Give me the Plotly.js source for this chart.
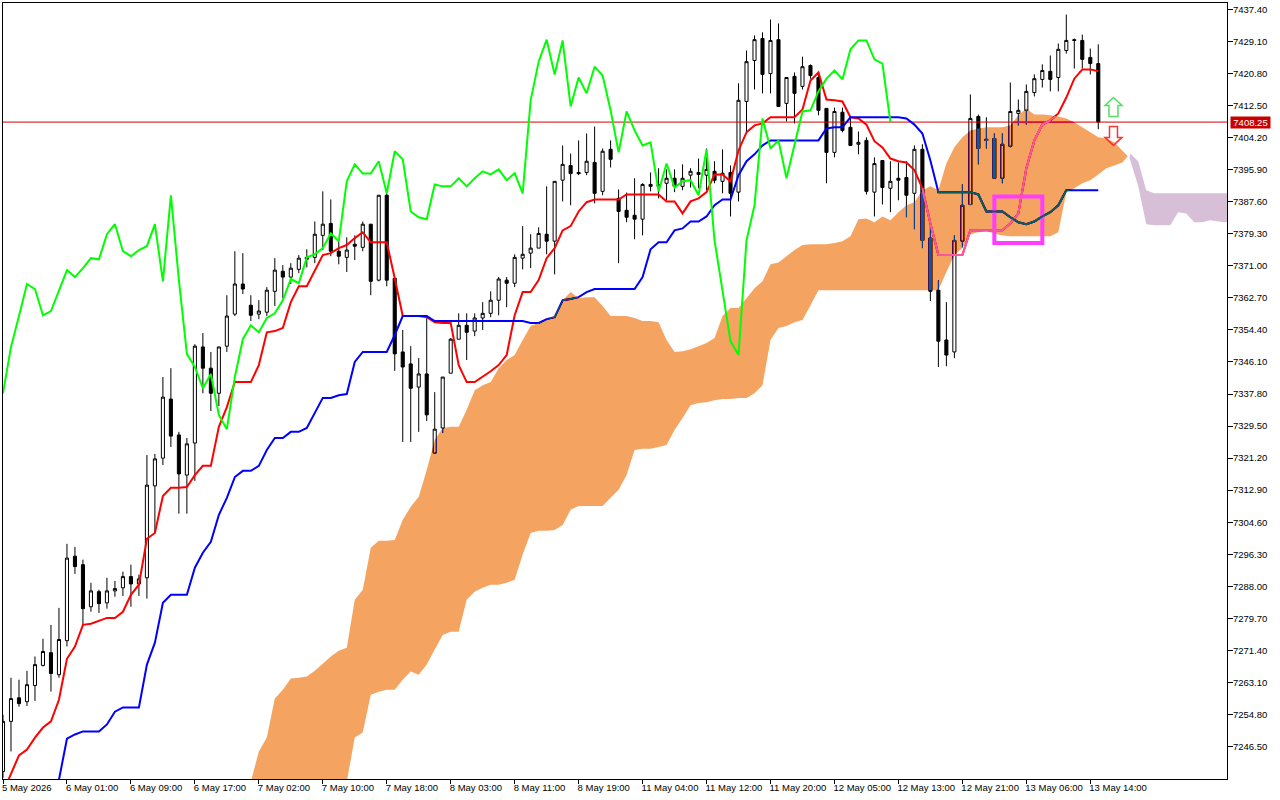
<!DOCTYPE html>
<html>
<head>
<meta charset="utf-8">
<script src="https://cdn.plot.ly/plotly-3.0.1.min.js"></script>
<style>
body { margin: 0; background: #fff; }
/* aliased lines like the terminal draws them */
.plot path { shape-rendering: crispEdges; }
/* the terminal XORs the cloud onto the chart; difference gives the same colours */
.js-fill { mix-blend-mode: difference; }
</style>
</head>
<body>
<div id="chartContainer"></div>
<script>
var opens = [
7240.0,7253.0,7259.1,7258.1,7262.3,7267.5,7270.8,7265.1,7273.9,7295.8,
7293.6,7282.7,7286.6,7283.7,7286.8,7287.6,7290.5,7288.6,7290.2,7314.0,
7321.2,7336.5,7327.2,7316.8,7325.1,7350.0,7344.5,7338.0,7350.2,7358.5,
7366.3,7360.8,7358.5,7359.0,7364.4,7369.6,7368.1,7370.1,7373.2,7373.2,
7378.9,7382.0,7374.8,7373.2,7376.6,7375.8,7381.8,7367.3,7389.3,7367.8,
7348.7,7345.6,7339.6,7343.0,7322.5,7329.0,7343.2,7352.0,7355.6,7354.1,
7357.5,7358.7,7362.1,7367.3,7366.5,7373.0,7374.3,7375.6,7379.2,7377.4,
7393.2,7397.0,7395.2,7395.2,7397.8,7390.3,7401.2,7388.5,7385.4,7384.1,
7383.1,7392.1,7392.1,7392.4,7393.7,7391.6,7394.5,7395.2,7394.5,7395.5,
7392.9,7395.2,7390.1,7413.6,7424.2,7429.9,7420.8,7429.6,7413.1,7420.1,
7417.5,7422.9,7419.8,7411.8,7400.4,7410.8,7406.9,7402.5,7403.5,7390.1,
7398.3,7391.1,7393.7,7393.9,7389.8,7401.2,7378.2,7364.7,7351.8,7348.7,
7377.4,7386.9,7409.7,7403.8,7404.0,7393.7,7402.0,7410.5,7411.3,7415.9,
7419.3,7421.4,7419.8,7426.8,7429.6,7429.4,7425.0,7423.4];
var highs = [
7254.7,7264.3,7263.8,7266.1,7269.8,7274.4,7278.0,7282.4,7299.0,7298.2,
7294.9,7288.9,7287.1,7290.2,7289.4,7291.8,7293.6,7291.0,7322.0,7322.3,
7342.2,7344.5,7328.0,7326.4,7350.7,7353.6,7348.7,7350.0,7363.4,7374.8,
7374.3,7363.4,7362.1,7365.5,7373.0,7371.2,7371.7,7373.8,7375.3,7382.5,
7390.3,7388.2,7377.4,7378.4,7378.9,7382.5,7381.8,7389.3,7389.8,7367.8,
7354.4,7350.2,7347.1,7357.5,7338.3,7342.2,7352.3,7358.7,7358.7,7358.7,
7361.6,7364.4,7368.1,7368.1,7374.0,7381.3,7379.2,7381.0,7391.6,7392.9,
7402.2,7400.1,7403.5,7405.3,7407.1,7401.4,7403.5,7390.8,7390.0,7393.7,
7392.4,7395.2,7396.3,7396.0,7396.0,7397.3,7396.3,7398.8,7401.4,7398.1,
7401.2,7397.0,7418.3,7426.8,7430.7,7431.5,7434.8,7433.8,7419.8,7421.1,
7425.2,7423.2,7420.8,7411.8,7412.0,7412.0,7409.5,7405.8,7404.3,7399.1,
7398.3,7398.1,7397.8,7398.1,7402.2,7402.5,7381.5,7367.3,7361.6,7378.9,
7392.1,7415.4,7410.2,7409.5,7405.3,7405.3,7418.5,7414.1,7418.0,7420.6,
7423.2,7425.5,7428.6,7436.1,7429.9,7430.9,7427.3,7428.4];
var lows = [
7238.4,7245.2,7256.8,7257.0,7258.3,7267.2,7260.7,7264.3,7272.4,7291.2,
7278.0,7281.4,7281.1,7282.2,7285.3,7285.5,7282.7,7285.5,7284.8,7301.8,
7319.4,7324.1,7306.8,7306.8,7315.3,7338.0,7333.4,7334.7,7348.7,7358.0,
7363.7,7356.7,7357.2,7358.0,7360.6,7362.6,7366.3,7369.1,7370.6,7371.7,
7375.1,7373.5,7371.4,7369.4,7372.5,7374.8,7363.4,7367.0,7365.7,7343.8,
7325.4,7325.4,7328.0,7330.8,7322.5,7327.7,7343.2,7352.0,7346.6,7352.8,
7354.4,7357.7,7358.2,7360.3,7365.5,7370.1,7370.4,7375.6,7374.0,7368.8,
7387.7,7386.7,7394.5,7394.5,7387.2,7389.3,7396.5,7371.7,7382.3,7377.9,
7378.9,7390.3,7388.5,7388.0,7390.1,7390.6,7391.3,7391.1,7390.6,7392.4,
7389.8,7383.8,7387.7,7405.3,7416.7,7415.7,7415.7,7412.3,7408.4,7407.9,
7416.7,7419.5,7410.0,7392.4,7399.1,7405.6,7402.2,7399.9,7389.5,7383.8,
7386.9,7384.9,7388.0,7383.6,7380.5,7375.6,7361.9,7344.8,7345.0,7347.1,
7375.8,7386.7,7397.3,7401.4,7393.7,7392.4,7401.7,7407.4,7407.6,7414.9,
7417.2,7416.2,7416.2,7426.0,7422.1,7422.1,7420.6,7406.4];
var closes = [
7253.0,7258.9,7257.6,7262.5,7267.7,7271.1,7265.4,7274.2,7295.3,7293.1,
7282.2,7286.8,7283.5,7286.8,7287.4,7290.5,7288.6,7289.9,7314.2,7321.0,
7337.0,7326.9,7317.1,7324.9,7350.2,7344.5,7338.0,7350.0,7358.0,7366.3,
7365.0,7358.2,7359.3,7364.7,7369.9,7368.1,7370.4,7373.0,7372.7,7379.2,
7381.8,7374.8,7373.5,7375.1,7376.1,7381.8,7367.0,7389.3,7367.3,7348.2,
7344.8,7339.3,7343.0,7332.4,7328.7,7342.2,7352.0,7355.6,7353.8,7357.5,
7358.7,7362.1,7367.6,7366.5,7373.2,7374.0,7375.6,7379.4,7377.4,7392.9,
7397.3,7394.9,7394.9,7398.1,7389.8,7400.7,7398.6,7385.1,7383.6,7383.1,
7392.1,7391.6,7391.6,7393.7,7391.6,7393.7,7395.5,7394.7,7396.0,7393.2,
7395.0,7389.8,7413.9,7423.9,7429.6,7420.6,7429.4,7412.3,7419.8,7415.7,
7422.6,7420.3,7411.3,7400.4,7411.0,7406.1,7402.2,7403.0,7390.3,7397.5,
7391.3,7392.9,7393.2,7389.3,7401.2,7377.6,7364.4,7351.5,7347.9,7377.6,
7386.7,7409.2,7401.4,7403.5,7393.7,7402.5,7411.0,7411.3,7416.2,7419.5,
7421.6,7419.3,7427.1,7429.4,7429.4,7424.5,7423.4,7408.25];

var tenkan = [
7234.6,7239.2,7244.2,7245.7,7248.8,7251.4,7253.0,7258.6,7269.2,7272.4,
7278.0,7278.3,7279.1,7279.8,7279.8,7281.4,7285.8,7288.4,7300.3,7301.8,
7311.4,7313.5,7313.5,7313.7,7316.8,7319.2,7319.2,7329.3,7334.4,7340.9,
7340.9,7340.9,7345.3,7353.8,7354.1,7354.9,7361.6,7365.7,7365.7,7369.9,
7373.8,7374.3,7375.6,7376.4,7378.2,7379.7,7377.1,7377.1,7377.1,7367.8,
7358.0,7358.0,7358.0,7357.7,7356.4,7356.2,7356.2,7345.3,7340.9,7340.9,
7342.2,7343.7,7345.3,7347.9,7358.2,7364.2,7364.2,7367.3,7373.0,7375.6,
7380.2,7381.3,7385.1,7387.5,7388.2,7388.2,7388.2,7388.2,7389.5,7389.5,
7389.5,7389.5,7389.5,7387.7,7387.7,7384.6,7387.7,7388.5,7390.1,7394.7,
7394.7,7392.9,7400.9,7405.6,7407.4,7407.9,7409.5,7409.5,7409.5,7409.5,
7411.5,7419.0,7421.1,7414.1,7413.9,7413.6,7409.5,7409.2,7407.6,7403.3,
7401.7,7398.8,7398.1,7397.8,7395.8,7391.1,7382.0,7373.8,7373.8,7373.8,
7373.8,7380.2,7380.2,7380.2,7380.2,7380.2,7382.0,7384.6,7396.3,7403.5,
7407.6,7408.7,7410.5,7414.6,7419.5,7421.9,7421.9,7421.4];
var kijun = [
null,null,null,null,null,null,null,7237.9,7248.5,7249.6,
7250.4,7250.4,7250.4,7252.2,7255.5,7256.6,7256.6,7256.6,7267.7,7273.4,
7283.7,7285.8,7285.8,7285.8,7292.8,7296.7,7299.5,7306.5,7310.9,7316.3,
7317.9,7317.9,7319.2,7323.3,7326.4,7326.4,7328.0,7328.0,7329.0,7332.9,
7336.8,7336.8,7337.5,7337.8,7346.1,7348.7,7348.7,7348.7,7348.7,7353.1,
7358.0,7358.0,7358.0,7358.0,7356.7,7356.7,7356.7,7356.7,7356.7,7356.7,
7356.7,7356.7,7356.7,7356.7,7356.7,7356.7,7356.2,7356.2,7357.2,7357.7,
7362.1,7362.4,7362.9,7364.2,7365.0,7365.0,7365.0,7365.0,7365.0,7365.0,
7368.1,7375.3,7377.1,7377.1,7380.2,7380.7,7382.5,7382.5,7383.8,7386.7,
7388.2,7388.2,7394.5,7398.1,7399.9,7402.2,7403.5,7403.5,7403.5,7403.5,
7403.5,7403.5,7403.5,7406.6,7406.9,7406.9,7409.5,7409.5,7409.5,7409.5,
7409.5,7409.5,7409.5,7409.2,7407.6,7405.3,7398.3,7390.1,7390.1,7390.1,
7390.1,7390.1,7389.5,7385.1,7385.1,7385.1,7383.6,7382.3,7381.8,7382.5,
7383.8,7384.9,7386.7,7390.6,7390.6,7390.6,7390.6,7390.6];
var chikou = [
7338.0,7350.0,7358.0,7366.3,7365.0,7358.2,7359.3,7364.7,7369.9,7368.1,
7370.4,7373.0,7372.7,7379.2,7381.8,7374.8,7373.5,7375.1,7376.1,7381.8,
7367.0,7389.3,7367.3,7348.2,7344.8,7339.3,7343.0,7332.4,7328.7,7342.2,
7352.0,7355.6,7353.8,7357.5,7358.7,7362.1,7367.6,7366.5,7373.2,7374.0,
7375.6,7379.4,7377.4,7392.9,7397.3,7394.9,7394.9,7398.1,7389.8,7400.7,
7398.6,7385.1,7383.6,7383.1,7392.1,7391.6,7391.6,7393.7,7391.6,7393.7,
7395.5,7394.7,7396.0,7393.2,7395.0,7389.8,7413.9,7423.9,7429.6,7420.6,
7429.4,7412.3,7419.8,7415.7,7422.6,7420.3,7411.3,7400.4,7411.0,7406.1,
7402.2,7403.0,7390.3,7397.5,7391.3,7392.9,7393.2,7389.3,7401.2,7377.6,
7364.4,7351.5,7347.9,7377.6,7386.7,7409.2,7401.4,7403.5,7393.7,7402.5,
7411.0,7411.3,7416.2,7419.5,7421.6,7419.3,7427.1,7429.4,7429.4,7424.5,
7423.4,7408.25];

// orange cloud: top edge from bar 31, bottom edge from bar 43, both meet at the crossing
var cloudTopStart = 31;
var cloudTop = [
7237.4,7245.2,7248.8,7258.9,7261.2,7264.1,7264.3,7264.6,7266.1,7267.9,
7269.8,7271.3,7272.1,7284.5,7287.1,7298.0,7299.8,7299.8,7300.0,7305.2,
7308.6,7311.2,7318.1,7325.9,7329.0,7329.3,7329.3,7333.7,7338.8,7340.1,
7340.9,7344.5,7346.6,7347.9,7351.8,7355.4,7356.2,7357.0,7358.0,7362.1,
7364.2,7362.6,7362.9,7362.9,7360.6,7358.0,7358.0,7358.0,7357.5,7356.7,
7356.7,7356.4,7351.8,7348.7,7348.9,7349.4,7350.2,7351.0,7352.3,7358.0,
7360.1,7360.1,7362.6,7365.2,7367.0,7371.4,7371.9,7373.5,7375.1,7376.4,
7376.6,7376.6,7376.6,7376.9,7377.4,7378.7,7383.1,7383.3,7382.3,7383.8,
7382.8,7384.9,7386.7,7387.5,7390.6,7391.6,7390.6,7397.6,7401.7,7404.3,
7406.1,7406.6,7406.9,7406.9,7406.9,7407.4,7410.0,7411.8,7410.2,7410.2,
7410.0,7409.7,7409.2,7408.2,7406.9,7405.6,7404.3,7404.0,7403.0,7400.9];
var cloudBottomStart = 43;
var cloudBottom = [
7237.4,7248.8,7250.1,7259.9,7260.7,7261.2,7261.2,7263.8,7265.9,7265.1,
7267.7,7271.6,7275.4,7276.2,7276.2,7284.5,7286.6,7287.6,7288.4,7288.4,
7288.9,7289.7,7296.2,7301.8,7302.4,7302.4,7302.6,7303.9,7307.8,7308.8,
7308.8,7308.8,7308.8,7310.9,7313.0,7316.8,7323.3,7323.6,7323.6,7324.1,
7324.6,7328.5,7331.6,7334.9,7335.5,7335.7,7336.2,7336.5,7336.5,7336.8,
7336.8,7338.0,7340.1,7351.8,7354.9,7355.4,7356.4,7357.0,7360.8,7364.7,
7364.7,7364.7,7364.7,7364.7,7364.7,7364.7,7364.7,7364.7,7364.7,7364.7,
7364.7,7364.7,7364.7,7364.7,7364.7,7369.4,7373.8,7375.6,7379.2,7379.7,
7380.0,7379.4,7378.9,7378.7,7378.7,7378.7,7378.7,7378.7,7378.7,7379.7,
7390.1,7391.1,7392.4,7393.2,7394.7,7396.3,7397.0,7397.8];
var crossBar = 140.7, crossPrice = 7399.4;
// thistle cloud after the crossing, from bar 141
var futureStart = 141;
var futureTop = [7400.1,7398.1,7390.6,7389.8,7389.8,7389.8,7389.8,7389.8,7389.8,7389.8,7389.8,7389.8,7389.8,7389.8];
var futureBottom = [7398.3,7391.6,7381.8,7381.5,7381.5,7381.5,7384.9,7384.6,7382.3,7382.3,7382.8,7382.5,7382.3,7382.3];
var futureCross = 7398.8;

var lastPrice = 7408.25;
var boxBars = [124, 130];
var boxPrices = [7376.9, 7389.0];
var arrowBar = 138.9;
var arrowUpPrice = 7412.3;
var arrowDownPrice = 7404.8;

var priceTicks = [7437.4,7429.1,7420.8,7412.5,7404.2,7395.9,7387.6,7379.3,7371.0,7362.7,7354.4,7346.1,7337.8,7329.5,7321.2,7312.9,7304.6,7296.3,7288.0,7279.7,7271.4,7263.1,7254.8,7246.5];
var timeTicks = [0,8,16,24,32,40,48,56,64,72,80,88,96,104,112,120,128,136];
var timeLabels = ['5 May 2026','6 May 01:00','6 May 09:00','6 May 17:00','7 May 02:00','7 May 10:00','7 May 18:00','8 May 03:00','8 May 11:00','8 May 19:00','11 May 04:00','11 May 12:00','11 May 20:00','12 May 05:00','12 May 13:00','12 May 21:00','13 May 06:00','13 May 14:00'];

var xRange = [0, 153.1];
var yRange = [7238.07, 7439.1];
var lineWidth = 2;

function bars(arr, start) {
  return arr.map(function (v, i) { return start + i; });
}
function lineTrace(xs, ys, color, width) {
  return {x: xs, y: ys, type: 'scatter', mode: 'lines', line: {color: color, width: width}, hoverinfo: 'skip'};
}
function polygon(xs1, ys1, xs2, ys2, color) {
  return {
    x: xs1.concat(xs2.slice().reverse()),
    y: ys1.concat(ys2.slice().reverse()),
    type: 'scatter', mode: 'none', fill: 'toself', fillcolor: color, hoverinfo: 'skip'
  };
}

var allBars = bars(closes, 0);

// white sheet inside the plot group, the blend needs something to work against
var backing = {
  x: [(xRange[0] + xRange[1]) / 2], y: [yRange[1] - yRange[0]], base: yRange[0],
  width: xRange[1] - xRange[0], type: 'bar', marker: {color: '#ffffff'}, hoverinfo: 'skip'
};
var candles = {
  x: allBars, open: opens, high: highs, low: lows, close: closes,
  type: 'candlestick', whiskerwidth: 0, hoverinfo: 'skip',
  increasing: {line: {color: '#000000', width: 1}, fillcolor: '#ffffff'},
  decreasing: {line: {color: '#000000', width: 1}, fillcolor: '#000000'}
};
var priceLine = lineTrace(xRange, [lastPrice, lastPrice], '#d80000', 1);
var orange = polygon(
  bars(cloudTop, cloudTopStart).concat([crossBar]), cloudTop.concat([crossPrice]),
  bars(cloudBottom, cloudBottomStart), cloudBottom, '#0b5b9f');
var thistle = polygon(
  [crossBar + 0.2].concat(bars(futureTop, futureStart)), [futureCross].concat(futureTop),
  bars(futureBottom, futureStart), futureBottom, '#274027');

// the highlight box sits over the cloud but under the two lines that cross it
var boxMid = (boxBars[0] + boxBars[1]) / 2;
var box = lineTrace(
  [boxMid, boxBars[1], boxBars[1], boxBars[0], boxBars[0], boxMid],
  [boxPrices[1], boxPrices[1], boxPrices[0], boxPrices[0], boxPrices[1], boxPrices[1]],
  '#ff3cff', 4);

var data = [
  backing, candles, priceLine,
  lineTrace(allBars, tenkan, '#ff0000', lineWidth),
  lineTrace(allBars, kijun, '#0000ff', lineWidth),
  orange, thistle, box,
  // the stretches of both lines that run inside the cloud
  lineTrace(allBars.slice(115, 132), tenkan.slice(115, 132), '#f45b9f', lineWidth),
  lineTrace(allBars.slice(117, 134), kijun.slice(117, 134), '#0b5b60', lineWidth),
  lineTrace(bars(chikou, 0), chikou, '#00ff00', lineWidth)
];

var axisFont = {family: '"Liberation Sans", Arial, sans-serif', size: 9.5, color: '#000000'};

var layout = {
  width: 1280, height: 800,
  margin: {l: 2.5, r: 52.5, t: 2.5, b: 20.5},
  paper_bgcolor: '#ffffff', plot_bgcolor: '#ffffff',
  showlegend: false, boxgap: 0.45,
  xaxis: {
    type: 'linear', range: xRange, showgrid: false, zeroline: false,
    rangeslider: {visible: false},
    tickmode: 'array', tickvals: timeTicks, ticktext: timeLabels,
    ticks: 'outside', ticklen: 4, tickcolor: '#000000', tickwidth: 1,
    ticklabelposition: 'outside right', ticklabelshift: -2, tickangle: 0, tickfont: axisFont,
    showline: true, mirror: true, linecolor: '#000000', linewidth: 1
  },
  yaxis: {
    range: yRange, side: 'right', showgrid: false, zeroline: false,
    tickmode: 'array', tickvals: priceTicks,
    ticktext: priceTicks.map(function (p) { return p.toFixed(2); }),
    ticks: 'outside', ticklen: 5, tickcolor: '#000000', tickwidth: 1, tickfont: axisFont,
    ticklabelstandoff: -2,
    showline: true, mirror: true, linecolor: '#000000', linewidth: 1
  },
  shapes: [
    {type: 'path', xref: 'x', yref: 'y', xsizemode: 'pixel', ysizemode: 'pixel',
     xanchor: arrowBar, yanchor: arrowUpPrice,
     path: 'M0,9 L8.5,1 L4.5,1 L4.5,-10 L-4.5,-10 L-4.5,1 L-8.5,1 Z',
     line: {color: '#55dd66', width: 1.5}, fillcolor: 'rgba(0,0,0,0)'},
    {type: 'path', xref: 'x', yref: 'y', xsizemode: 'pixel', ysizemode: 'pixel',
     xanchor: arrowBar, yanchor: arrowDownPrice,
     path: 'M-4,9 L4,9 L4,-2 L8.5,-2 L0,-10 L-8.5,-2 L-4,-2 Z',
     line: {color: '#ff3030', width: 1.5}, fillcolor: 'rgba(0,0,0,0)'}
  ],
  annotations: [
    {xref: 'paper', yref: 'y', x: 1, y: lastPrice, xanchor: 'left', xshift: 2.5, showarrow: false,
     width: 39, height: 11, align: 'center',
     text: lastPrice.toFixed(2), font: {family: axisFont.family, size: 9.5, color: '#ffffff'},
     bgcolor: '#c80000', borderpad: 0}
  ]
};

Plotly.newPlot('chartContainer', data, layout, {displayModeBar: false, staticPlot: true});
</script>
</body>
</html>
